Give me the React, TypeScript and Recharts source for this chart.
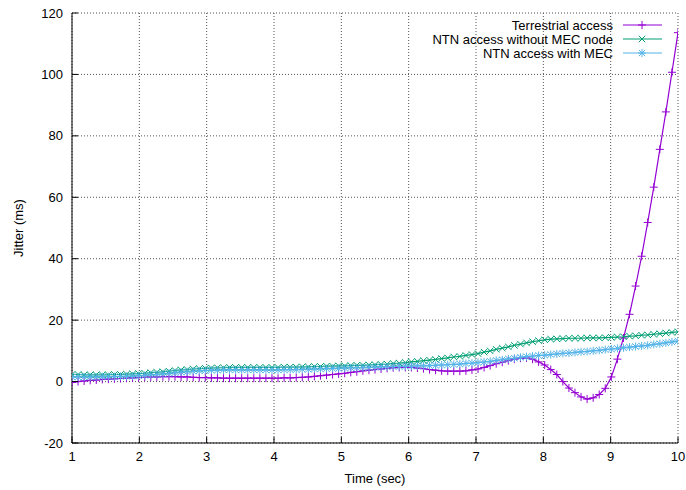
import React from 'react';
import { LineChart, Line, XAxis, YAxis, CartesianGrid } from 'recharts';

// sample times (sec)
const time = [
  1.0, 1.09, 1.18, 1.27, 1.36, 1.45, 1.54, 1.63, 1.72, 1.81,
  1.9, 1.99, 2.08, 2.17, 2.26, 2.35, 2.44, 2.53, 2.62, 2.71,
  2.8, 2.89, 2.98, 3.07, 3.16, 3.25, 3.34, 3.43, 3.52, 3.61,
  3.7, 3.79, 3.88, 3.97, 4.06, 4.15, 4.24, 4.33, 4.42, 4.51,
  4.6, 4.69, 4.78, 4.87, 4.96, 5.05, 5.14, 5.23, 5.32, 5.41,
  5.5, 5.59, 5.68, 5.77, 5.86, 5.95, 6.04, 6.13, 6.22, 6.31,
  6.4, 6.49, 6.58, 6.67, 6.76, 6.85, 6.94, 7.03, 7.12, 7.21,
  7.3, 7.39, 7.48, 7.57, 7.66, 7.75, 7.84, 7.93, 8.02, 8.11,
  8.2, 8.29, 8.38, 8.47, 8.56, 8.65, 8.74, 8.83, 8.92, 9.01,
  9.1, 9.19, 9.28, 9.37, 9.46, 9.55, 9.64, 9.73, 9.82, 9.91,
  10.0,
];

// jitter (ms)
const terrestrial = [
  -0.3, 0.0, 0.2, 0.4, 0.5, 0.7, 0.8, 0.9, 1.0, 1.1,
  1.2, 1.3, 1.4, 1.5, 1.5, 1.6, 1.6, 1.6, 1.5, 1.5,
  1.4, 1.3, 1.3, 1.2, 1.2, 1.1, 1.1, 1.1, 1.1, 1.1,
  1.1, 1.1, 1.1, 1.1, 1.1, 1.2, 1.2, 1.3, 1.4, 1.5,
  1.7, 1.9, 2.1, 2.3, 2.5, 2.7, 3.0, 3.2, 3.5, 3.7,
  3.9, 4.1, 4.3, 4.5, 4.6, 4.6, 4.6, 4.4, 4.2, 3.9,
  3.7, 3.5, 3.4, 3.4, 3.4, 3.5, 3.8, 4.1, 4.6, 5.2,
  5.8, 6.3, 6.8, 7.3, 7.6, 7.7, 7.3, 6.4, 5.4, 3.9,
  2.3, 0.0, -2.1, -3.6, -5.0, -5.7, -5.3, -4.2, -2.2, 1.5,
  7.3, 14.2, 21.9, 31.1, 40.8, 51.8, 63.3, 75.6, 87.8, 100.7,
  113.6,
];

const ntnNoMec = [
  2.3, 2.3, 2.2, 2.2, 2.2, 2.2, 2.2, 2.3, 2.3, 2.4,
  2.5, 2.6, 2.7, 2.9, 3.0, 3.2, 3.4, 3.6, 3.8, 3.9,
  4.1, 4.2, 4.3, 4.4, 4.5, 4.5, 4.6, 4.6, 4.6, 4.6,
  4.6, 4.6, 4.6, 4.6, 4.6, 4.7, 4.7, 4.7, 4.8, 4.8,
  4.9, 4.9, 5.0, 5.0, 5.1, 5.1, 5.2, 5.3, 5.3, 5.4,
  5.5, 5.6, 5.7, 5.9, 6.0, 6.2, 6.4, 6.6, 6.8, 7.0,
  7.2, 7.5, 7.7, 8.0, 8.2, 8.5, 8.8, 9.1, 9.6, 10.0,
  10.5, 10.9, 11.3, 11.8, 12.2, 12.6, 13.0, 13.3, 13.6, 13.8,
  13.9, 14.0, 14.1, 14.1, 14.1, 14.2, 14.2, 14.2, 14.3, 14.4,
  14.5, 14.6, 14.8, 14.9, 15.1, 15.2, 15.4, 15.6, 15.8, 16.0,
  16.2,
];

const ntnMec = [
  1.5, 1.5, 1.5, 1.5, 1.5, 1.6, 1.6, 1.6, 1.7, 1.7,
  1.8, 1.9, 2.0, 2.2, 2.3, 2.5, 2.7, 2.9, 3.1, 3.2,
  3.4, 3.5, 3.6, 3.7, 3.7, 3.8, 3.8, 3.8, 3.8, 3.8,
  3.8, 3.8, 3.8, 3.8, 3.8, 3.9, 3.9, 3.9, 4.0, 4.0,
  4.1, 4.1, 4.2, 4.3, 4.3, 4.4, 4.5, 4.5, 4.6, 4.6,
  4.7, 4.8, 4.8, 4.9, 4.9, 5.0, 5.0, 5.1, 5.1, 5.2,
  5.3, 5.4, 5.5, 5.6, 5.7, 5.9, 6.0, 6.2, 6.4, 6.6,
  6.9, 7.1, 7.4, 7.6, 7.9, 8.1, 8.3, 8.5, 8.6, 8.8,
  9.0, 9.2, 9.3, 9.5, 9.7, 9.8, 10.0, 10.2, 10.4, 10.6,
  10.8, 11.0, 11.2, 11.4, 11.6, 11.8, 12.1, 12.3, 12.6, 12.9,
  13.2,
];

const xTicks = [1, 2, 3, 4, 5, 6, 7, 8, 9, 10];
const yTicks = [-20, 0, 20, 40, 60, 80, 100, 120];

const seriesNames = ['Terrestrial access', 'NTN access without MEC node', 'NTN access with MEC'];

const data = time.map((t, i) => ({
  t,
  terrestrial: terrestrial[i],
  ntnNoMec: ntnNoMec[i],
  ntnMec: ntnMec[i],
}));

const FONT = '"Liberation Sans", Arial, sans-serif';
const PURPLE = '#9400d3';
const GREEN = '#009e73';
const BLUE = '#56b4e9';

// gnuplot style point markers
const plusShape = (cx: number, cy: number, c: string, s = 4) => (
  <>
    <line x1={cx - s} x2={cx + s} y1={cy} y2={cy} stroke={c} strokeWidth={1} />
    <line x1={cx} x2={cx} y1={cy - s} y2={cy + s} stroke={c} strokeWidth={1} />
  </>
);
const crossShape = (cx: number, cy: number, c: string, s = 3.2) => (
  <>
    <line x1={cx - s} x2={cx + s} y1={cy - s} y2={cy + s} stroke={c} strokeWidth={1} />
    <line x1={cx - s} x2={cx + s} y1={cy + s} y2={cy - s} stroke={c} strokeWidth={1} />
  </>
);

const PlusDot = (props: any) => {
  const { cx, cy, index } = props;
  if (cx == null || cy == null) return <g key={`p-${index}`} />;
  return <g key={`p-${index}`}>{plusShape(cx, cy, PURPLE)}</g>;
};
const CrossDot = (props: any) => {
  const { cx, cy, index } = props;
  if (cx == null || cy == null) return <g key={`x-${index}`} />;
  return <g key={`x-${index}`}>{crossShape(cx, cy, GREEN)}</g>;
};
const StarDot = (props: any) => {
  const { cx, cy, index } = props;
  if (cx == null || cy == null) return <g key={`s-${index}`} />;
  return (
    <g key={`s-${index}`}>
      {plusShape(cx, cy, BLUE, 4)}
      {crossShape(cx, cy, BLUE, 3.2)}
    </g>
  );
};

// inward ticks, labels outside
const BottomTick = ({ x, y, payload }: any) => (
  <g>
    <line x1={x} x2={x} y1={y} y2={y - 6} stroke="#000" />
    <text x={x} y={y + 18} textAnchor="middle" fontSize={13} fontFamily={FONT} fill="#000">
      {payload.value}
    </text>
  </g>
);
const LeftTick = ({ x, y, payload }: any) => (
  <g>
    <line x1={x} x2={x + 6} y1={y} y2={y} stroke="#000" />
    <text x={x - 9} y={y + 4.5} textAnchor="end" fontSize={13} fontFamily={FONT} fill="#000">
      {payload.value}
    </text>
  </g>
);
const TopTick = ({ x, y }: any) => <line x1={x} x2={x} y1={y} y2={y + 6} stroke="#000" />;
const RightTick = ({ x, y }: any) => <line x1={x} x2={x - 6} y1={y} y2={y} stroke="#000" />;

export default function App() {
  const legendRows = [
    { name: seriesNames[0], color: PURPLE, kind: 'plus' },
    { name: seriesNames[1], color: GREEN, kind: 'cross' },
    { name: seriesNames[2], color: BLUE, kind: 'star' },
  ];

  return (
    <div style={{ position: 'absolute', left: 0, top: 0, width: 686, height: 490, background: '#fff' }}>
      <LineChart width={686} height={490} data={data} margin={{ top: 13, right: 8, left: 0, bottom: 0 }}>
        <CartesianGrid stroke="#555" strokeDasharray="1 2" />
        <XAxis
          dataKey="t"
          type="number"
          domain={[1, 10]}
          ticks={xTicks}
          allowDataOverflow
          height={47}
          tickSize={0}
          tickMargin={0}
          tickLine={false}
          tick={<BottomTick />}
          axisLine={{ stroke: '#000' }}
          label={{ value: 'Time (sec)', position: 'insideBottom', offset: 7, fontSize: 13, fontFamily: FONT, fill: '#000' }}
        />
        <XAxis
          xAxisId="top"
          orientation="top"
          dataKey="t"
          type="number"
          domain={[1, 10]}
          ticks={xTicks}
          allowDataOverflow
          height={0}
          tickSize={0}
          tickMargin={0}
          tickLine={false}
          tick={<TopTick />}
          axisLine={{ stroke: '#000' }}
        />
        <YAxis
          type="number"
          domain={[-20, 120]}
          ticks={yTicks}
          allowDataOverflow
          width={72}
          tickSize={0}
          tickMargin={0}
          tickLine={false}
          tick={<LeftTick />}
          axisLine={{ stroke: '#000' }}
        />
        <YAxis
          yAxisId="right"
          orientation="right"
          type="number"
          domain={[-20, 120]}
          ticks={yTicks}
          allowDataOverflow
          width={0}
          tickSize={0}
          tickMargin={0}
          tickLine={false}
          tick={<RightTick />}
          axisLine={{ stroke: '#000' }}
        />
        <Line type="linear" dataKey="terrestrial" stroke={PURPLE} strokeWidth={1.2} dot={PlusDot} activeDot={false} isAnimationActive={false} />
        <Line type="linear" dataKey="ntnNoMec" stroke={GREEN} strokeWidth={1.2} dot={CrossDot} activeDot={false} isAnimationActive={false} />
        <Line type="linear" dataKey="ntnMec" stroke={BLUE} strokeWidth={1.2} dot={StarDot} activeDot={false} isAnimationActive={false} />
      </LineChart>

      {/* y label */}
      <svg width={686} height={490} style={{ position: 'absolute', left: 0, top: 0, pointerEvents: 'none' }}>
        <text
          x={0}
          y={0}
          transform="translate(23 228) rotate(-90)"
          textAnchor="middle"
          fontSize={13}
          fontFamily={FONT}
          fill="#000"
        >
          Jitter (ms)
        </text>
        {legendRows.map((r, i) => {
          const y = 25 + i * 14;
          return (
            <g key={r.name}>
              <text x={613} y={y + 4.5} textAnchor="end" fontSize={13} fontFamily={FONT} fill="#000">
                {r.name}
              </text>
              <line x1={623} x2={662} y1={y} y2={y} stroke={r.color} strokeWidth={1.2} />
              {r.kind === 'plus' && plusShape(642, y, r.color)}
              {r.kind === 'cross' && crossShape(642, y, r.color)}
              {r.kind === 'star' && (
                <>
                  {plusShape(642, y, r.color)}
                  {crossShape(642, y, r.color)}
                </>
              )}
            </g>
          );
        })}
      </svg>
    </div>
  );
}
